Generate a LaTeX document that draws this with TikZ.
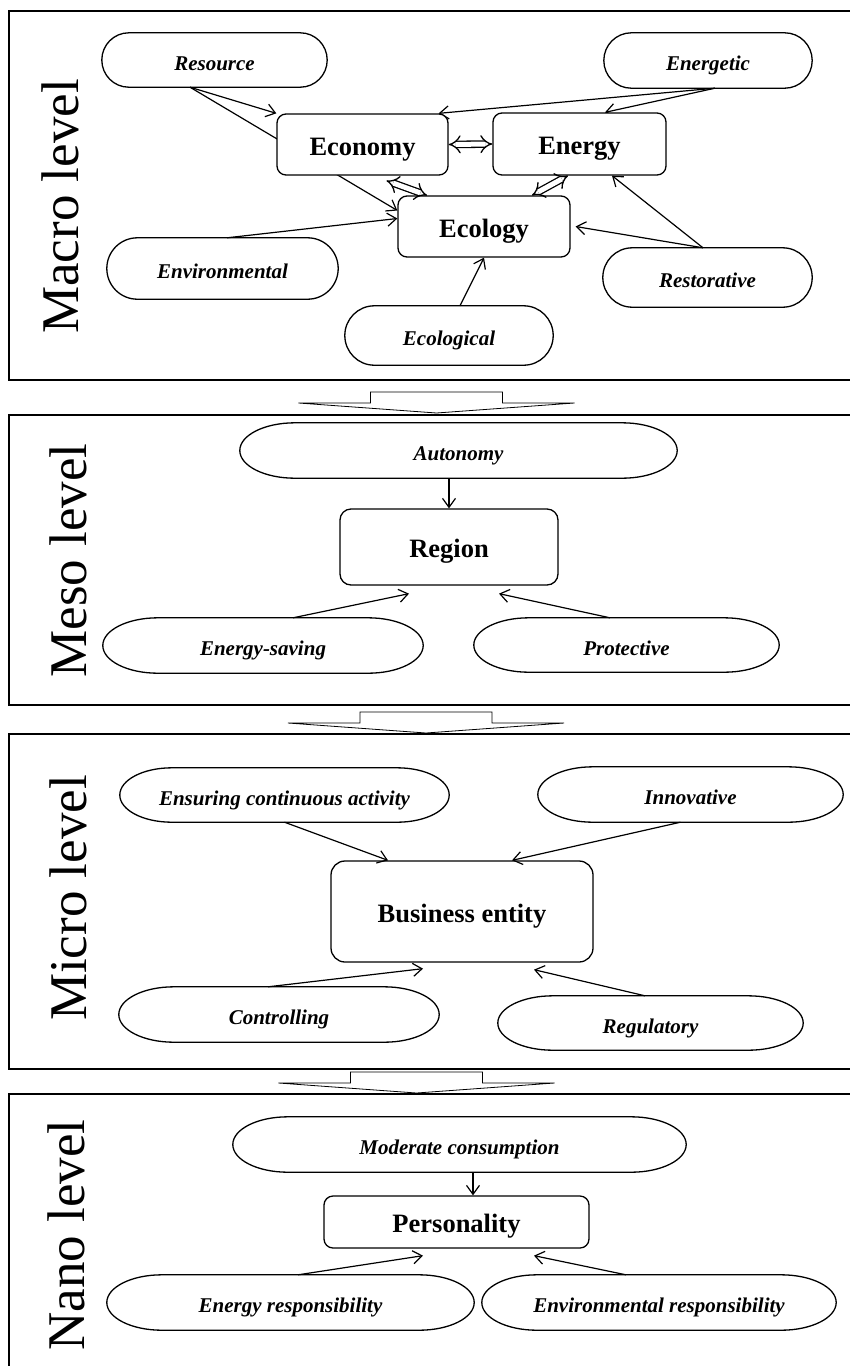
\documentclass[tikz,border=0pt]{standalone}
\usepackage{fontspec}
\setmainfont{Liberation Serif}
\usetikzlibrary{arrows.meta,positioning,calc,backgrounds}

\tikzset{
  panel/.style={draw,line width=1.6pt,anchor=north west},
  hub/.style={draw,rounded corners=9pt,line width=1.3pt,fill=white,inner sep=0pt,
    text height=21pt,text depth=0pt,font=\fontsize{26.5}{30}\selectfont\bfseries},
  factor/.style={inner sep=0pt,text height=20pt,text depth=0pt,
    font=\fontsize{21}{25}\selectfont\bfseries\itshape},
  link/.style={line width=1.2pt,-{Straight Barb[length=9pt,width=13pt]}},
  twoway/.style={line width=1.3pt,double distance=5pt,{Implies}-{Implies}},
  levellabel/.style={rotate=90,anchor=base,font=\fontsize{53}{60}\selectfont},
  blockarrow/.style={draw,line width=0.8pt,fill=white},
}

% outline of a factor: straight top and bottom, round ends
\newcommand{\pill}[2]{%
  \draw[line width=1.3pt] let \p1=($(#1.north)-(#1.south)$) in
    ([xshift=#2]#1.north west) -- ([xshift=-#2]#1.north east)
    arc[start angle=90,end angle=-90,x radius=#2,y radius=0.5*\y1]
    -- ([xshift=#2]#1.south west)
    arc[start angle=270,end angle=90,x radius=#2,y radius=0.5*\y1] -- cycle;}

% broad arrow from one level down to the next
\newcommand{\levelarrow}[2]{%
  \draw[blockarrow] (#1-138,#2+11) -- (#1-66,#2+11) -- (#1-66,#2) -- (#1+66,#2)
    -- (#1+66,#2+11) -- (#1+138,#2+11) -- (#1,#2+21) -- cycle;}

\begin{document}
\begin{tikzpicture}[x=1pt,y=-1pt]
  \useasboundingbox (0,0) rectangle (850,1366);

  % levels
  \node[panel,minimum width=870pt,minimum height=369pt] (macro) at (8,10) {};
  \node[panel,minimum width=870pt,minimum height=290pt] (meso) at (8,414) {};
  \node[panel,minimum width=870pt,minimum height=335pt] (micro) at (8,733) {};
  \node[panel,minimum width=870pt,minimum height=300pt] (nano) at (8,1093) {};
  \node[levellabel] at (78,206.5) {Macro level};
  \node[levellabel] at (86,560.5) {Meso level};
  \node[levellabel] at (86,898) {Micro level};
  \node[levellabel] at (84,1235) {Nano level};
  \levelarrow{436.5}{392}
  \levelarrow{426}{712}
  \levelarrow{416.5}{1072}

  % macro level
  \node[hub,minimum width=171pt,minimum height=61pt] (economy) at (362.5,144.5) {Economy};
  \node[hub,minimum width=173pt,minimum height=62pt] (energy) at (579.5,144) {Energy};
  \node[hub,minimum width=172pt,minimum height=61pt] (ecology) at (484,226.5) {Ecology};
  \node[factor,minimum width=225pt,minimum height=54pt] (resource) at (214.5,60) {Resource};
  \node[factor,minimum width=208pt,minimum height=55pt] (energetic) at (708,60.5) {Energetic};
  \node[factor,minimum width=231pt,minimum height=61pt] (environmental) at (222.5,268.5) {Environmental};
  \node[factor,minimum width=208pt,minimum height=59pt] (ecological) at (449,335.5) {Ecological};
  \node[factor,minimum width=209pt,minimum height=59pt] (restorative) at (707.5,277.5) {Restorative};

  % meso level
  \node[hub,rounded corners=11pt,minimum width=218pt,minimum height=76pt] (region) at (449,547) {Region};
  \node[factor,minimum width=437pt,minimum height=55pt] (autonomy) at (458.5,450.5) {Autonomy};
  \node[factor,minimum width=320pt,minimum height=55pt] (energysaving) at (263,645.5) {Energy-saving};
  \node[factor,minimum width=305pt,minimum height=54pt] (protective) at (626.5,645) {Protective};

  % micro level
  \node[hub,rounded corners=14pt,minimum width=262pt,minimum height=101pt] (business) at (462,911.5) {Business entity};
  \node[factor,minimum width=329pt,minimum height=54pt] (ensuring) at (284.5,795) {Ensuring continuous activity};
  \node[factor,minimum width=305pt,minimum height=55pt] (innovative) at (690.5,794.5) {Innovative};
  \node[factor,minimum width=320pt,minimum height=55pt] (controlling) at (279,1014.5) {Controlling};
  \node[factor,minimum width=305pt,minimum height=54pt] (regulatory) at (650.5,1023) {Regulatory};

  % nano level
  \node[hub,minimum width=265pt,minimum height=52pt] (personality) at (456.5,1222) {Personality};
  \node[factor,minimum width=453pt,minimum height=55pt] (moderate) at (459.5,1144.5) {Moderate consumption};
  \node[factor,minimum width=367pt,minimum height=55pt] (energyresp) at (290.5,1302.5) {Energy responsibility};
  \node[factor,minimum width=354pt,minimum height=55pt] (envresp) at (659,1302.5) {Environmental responsibility};

  \foreach \f/\r in {resource/27pt,energetic/27.5pt,environmental/30.5pt,ecological/29.5pt,
      restorative/29.5pt,autonomy/55pt,energysaving/55pt,protective/55pt,ensuring/52pt,
      innovative/55pt,controlling/55pt,regulatory/55pt,moderate/55pt,energyresp/55pt,envresp/55pt}
    \pill{\f}{\r};

  \begin{scope}[on background layer]
    \draw[link] ([xshift=-24.5pt]resource.south) -- (economy.north west);
    \draw[link] ([xshift=-24.5pt]resource.south) -- ([yshift=16pt]ecology.west);
    \draw[link] ([xshift=7pt]energetic.south) -- ([xshift=-10pt]economy.north east);
    \draw[link] ([xshift=7pt]energetic.south) -- ([xshift=25.5pt]energy.north);
    \draw[link] ([xshift=4.5pt]environmental.north) -- ([yshift=8pt]ecology.west);
    \draw[link] ([xshift=11pt]ecological.north) -- (ecology.south);
    \draw[link] ([xshift=-4.5pt]restorative.north) -- ([xshift=5pt]ecology.east);
    \draw[link] ([xshift=-4.5pt]restorative.north) -- ([xshift=32.5pt]energy.south);
  \end{scope}
  \draw[twoway] (economy.east) -- (energy.west);
  \draw[twoway] ([shift={(24pt,-5pt)}]economy.south) -- ([xshift=-57pt]ecology.north);
  \draw[twoway] ([xshift=-11.5pt]energy.south) -- ([xshift=48pt]ecology.north);

  \draw[link] (autonomy.south -| region.north) -- (region.north);
  \draw[link] ([xshift=30pt]energysaving.north) -- ([shift={(-40pt,-8pt)}]region.south);
  \draw[link] ([xshift=-16.5pt]protective.north) -- ([shift={(50pt,-8pt)}]region.south);

  \draw[link] (ensuring.south) -- ([xshift=-74pt]business.north);
  \draw[link] ([xshift=-10pt]innovative.south) -- ([xshift=50pt]business.north);
  \draw[link] ([xshift=-11pt]controlling.north) -- ([shift={(-39pt,-6pt)}]business.south);
  \draw[link] ([xshift=-5.5pt]regulatory.north) -- ([shift={(72pt,-7pt)}]business.south);

  \draw[link] ([xshift=13.5pt]moderate.south) -- ([xshift=16.5pt]personality.north);
  \draw[link] ([xshift=7.5pt]energyresp.north) -- ([shift={(-33.5pt,-7pt)}]personality.south);
  \draw[link] ([xshift=-33pt]envresp.north) -- ([shift={(77.5pt,-7pt)}]personality.south);
\end{tikzpicture}
\end{document}
